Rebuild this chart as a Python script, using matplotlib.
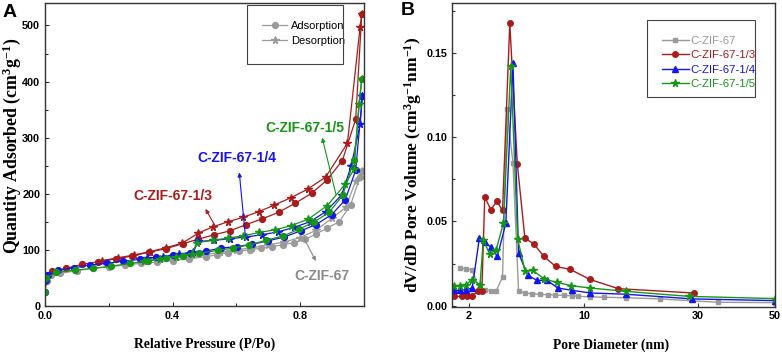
import matplotlib
matplotlib.use('Agg')
import matplotlib.pyplot as plt
from matplotlib.lines import Line2D
from matplotlib.patches import Rectangle
from matplotlib.ticker import FixedLocator, MultipleLocator, NullLocator
import numpy as np

# ---------------- panel A : N2 isotherms ----------------
p_ads_67 = [0.0, 0.005, 0.02, 0.047, 0.1, 0.15, 0.2, 0.25, 0.3, 0.35, 0.4, 0.45, 0.505, 0.538, 0.573,
            0.607, 0.643, 0.677, 0.712, 0.745, 0.779, 0.816, 0.849, 0.885, 0.922, 0.958, 0.987, 0.995]
q_ads_67 = [25, 45, 55, 58, 63, 67, 70, 73, 76, 78, 81, 84, 88, 91, 95,
            98, 100, 103, 106, 109, 113, 119, 128, 139, 150, 180, 230, 241]
p_des_67 = [0.995, 0.974, 0.943, 0.901, 0.85, 0.8, 0.75, 0.7, 0.65, 0.6, 0.55, 0.5, 0.45, 0.4]
q_des_67 = [241, 223, 176, 157, 135, 122, 114, 109, 104, 100, 96, 91, 85, 82]

p_ads_13 = [0.0, 0.005, 0.021, 0.066, 0.115, 0.167, 0.222, 0.274, 0.326, 0.378, 0.432, 0.48, 0.531,
            0.58, 0.63, 0.68, 0.732, 0.784, 0.836, 0.883, 0.932, 0.974, 0.993]
q_ads_13 = [45, 55, 62, 67, 74, 79, 84, 89, 96, 102, 111, 119, 127,
            134, 145, 155, 167, 183, 201, 224, 259, 333, 521]
p_des_13 = [0.993, 0.988, 0.948, 0.88, 0.823, 0.771, 0.719, 0.67, 0.62, 0.573, 0.526, 0.481,
            0.43, 0.38, 0.33, 0.28, 0.23, 0.18]
q_des_13 = [521, 498, 290, 230, 208, 193, 180, 168, 158, 150, 141, 130,
            112, 104, 97, 91, 86, 81]

p_ads_14 = [0.0, 0.003, 0.01, 0.042, 0.09, 0.14, 0.193, 0.245, 0.297, 0.349, 0.401, 0.453, 0.505,
            0.552, 0.601, 0.649, 0.698, 0.75, 0.802, 0.849, 0.899, 0.941, 0.974, 0.995]
q_ads_14 = [25, 47, 55, 64, 68, 73, 76, 80, 83, 87, 91, 95, 98,
            103, 106, 110, 116, 123, 134, 145, 163, 189, 242, 375]
p_des_14 = [0.995, 0.988, 0.96, 0.93, 0.88, 0.83, 0.78, 0.73, 0.68, 0.63, 0.58, 0.53, 0.48,
            0.465, 0.42, 0.37, 0.32]
q_des_14 = [375, 324, 250, 198, 168, 150, 140, 132, 127, 123, 120, 117, 115,
            96, 92, 88, 85]

p_ads_15 = [0.0, 0.003, 0.036, 0.094, 0.151, 0.208, 0.266, 0.323, 0.378, 0.432, 0.484, 0.542,
            0.588, 0.641, 0.693, 0.747, 0.797, 0.844, 0.891, 0.934, 0.969, 0.993]
q_ads_15 = [25, 50, 60, 64, 67, 71, 76, 80, 85, 89, 94, 99,
            103, 109, 117, 125, 137, 150, 167, 198, 260, 405]
p_des_15 = [0.993, 0.984, 0.969, 0.941, 0.885, 0.826, 0.771, 0.722, 0.672, 0.62, 0.573, 0.526,
            0.477, 0.46, 0.41, 0.36, 0.31]
q_des_15 = [405, 360, 244, 217, 179, 155, 143, 136, 131, 125, 121, 117,
            113, 93, 88, 84, 80]

# ---------------- panel B : pore size distribution ----------------
d_67 = [1.76, 1.92, 2.08, 2.31, 2.5, 2.72, 2.92, 3.19, 3.39, 3.69, 3.99, 4.37, 4.8, 5.35, 5.99,
        6.67, 7.49, 8.42, 9.1, 10.6, 12.06, 14.9, 20.9, 34.2, 50]
v_67 = [0.0224, 0.0218, 0.0214, 0.0100, 0.0093, 0.0088, 0.0088, 0.0170, 0.117, 0.0847, 0.0085,
        0.0075, 0.0071, 0.0067, 0.0065, 0.0063, 0.0061, 0.0059, 0.0056, 0.0052, 0.0050, 0.0047,
        0.0040, 0.0020, 0.0018]

d_13 = [1.61, 1.81, 1.95, 2.09, 2.25, 2.39, 2.49, 2.71, 2.95, 3.19, 3.53, 3.92, 4.36, 4.92, 5.69,
        6.69, 8.22, 10.53, 13.88, 28.9]
v_13 = [0.0055, 0.0055, 0.0057, 0.0057, 0.0085, 0.0085, 0.0645, 0.057, 0.0619, 0.0565, 0.1677,
        0.0842, 0.0399, 0.0368, 0.0292, 0.0233, 0.0215, 0.0156, 0.0101, 0.0075]

d_14 = [1.61, 1.76, 1.92, 2.09, 2.31, 2.5, 2.72, 2.97, 3.34, 3.69, 3.99, 4.52, 5.16, 5.94, 6.88,
        8.42, 10.6, 14.9, 28.5, 50]
v_14 = [0.0091, 0.0091, 0.0095, 0.0105, 0.0402, 0.0375, 0.0346, 0.0292, 0.049, 0.144, 0.0312,
        0.0182, 0.015, 0.015, 0.0105, 0.0091, 0.0075, 0.0068, 0.004, 0.003]

d_15 = [1.61, 1.76, 1.92, 2.08, 2.33, 2.44, 2.66, 2.92, 3.23, 3.58, 3.94, 4.37, 4.88, 5.71, 6.83,
        8.27, 10.53, 14.9, 27.6, 50]
v_15 = [0.0119, 0.0119, 0.0125, 0.0154, 0.0125, 0.0391, 0.0308, 0.0332, 0.049, 0.1423, 0.0396,
        0.0203, 0.0209, 0.0158, 0.0138, 0.0119, 0.0105, 0.0085, 0.0055, 0.0042]

labels = ['C-ZIF-67', 'C-ZIF-67-1/3', 'C-ZIF-67-1/4', 'C-ZIF-67-1/5']
colors = ['#9a9a9a', '#a81c1c', '#1414f0', '#169616']

# pore-diameter axis of the original is stretched unevenly between its ticks
knot_d = np.array([1.0, 2.0, 10.0, 30.0, 50.0, 100.0])
knot_px = np.array([419.5, 469.0, 584.0, 697.0, 774.0, 878.5])


def d_forward(x):
    x = np.clip(np.asarray(x, dtype=float), 1e-6, None)
    return np.interp(np.log10(x), np.log10(knot_d), knot_px)


def d_inverse(p):
    return 10 ** np.interp(np.asarray(p, dtype=float), knot_px, np.log10(knot_d))


plt.rcParams['mathtext.fontset'] = 'custom'
plt.rcParams['mathtext.rm'] = 'Liberation Serif:bold'
plt.rcParams['mathtext.it'] = 'Liberation Serif:bold'
plt.rcParams['mathtext.bf'] = 'Liberation Serif:bold'
plt.rcParams['mathtext.default'] = 'rm'

W, H = 782, 357
fig = plt.figure(figsize=(W / 100, H / 100), dpi=100)
axA = fig.add_axes([45 / W, 1 - 306 / H, 319 / W, 303 / H])
axB = fig.add_axes([452 / W, 1 - 306.5 / H, 323 / W, 303.2 / H])

tick_font = dict(family='Liberation Sans', weight='bold', size=7.8)
label_font = dict(family='Liberation Serif', weight='bold', size=9.8)

for ax in (axA, axB):
    for s in ax.spines.values():
        s.set_linewidth(1.0)
        s.set_color('#333333')
    ax.tick_params(which='both', direction='in', top=False, right=False, color='#333333', pad=3.5)
    ax.tick_params(which='major', length=3, width=0.8)
    ax.tick_params(which='minor', length=2, width=0.8)

# ---- A ----
lw = 0.9
isotherms = [(p_ads_67, q_ads_67, p_des_67, q_des_67),
             (p_ads_13, q_ads_13, p_des_13, q_des_13),
             (p_ads_14, q_ads_14, p_des_14, q_des_14),
             (p_ads_15, q_ads_15, p_des_15, q_des_15)]
for (pa, qa, pd, qd), c in zip(isotherms, colors):
    axA.plot(pd, qd, color=c, lw=lw, marker='*', ms=5.5)
    axA.plot(pa, qa, color=c, lw=lw, marker='o', ms=4.2)

axA.set_xlim(0, 1.0)
axA.set_ylim(0, 540)
axA.xaxis.set_major_locator(FixedLocator([0.0, 0.4, 0.8]))
axA.xaxis.set_minor_locator(FixedLocator([0.2, 0.6]))
axA.set_xticklabels(['0.0', '0.4', '0.8'], fontdict=tick_font)
axA.set_yticks([0, 100, 200, 300, 400, 500])
axA.yaxis.set_minor_locator(MultipleLocator(50))
axA.set_yticklabels(['0', '100', '200', '300', '400', '500'], fontdict=tick_font)
axA.set_xlabel('Relative Pressure (P/Po)', fontdict=label_font)
axA.xaxis.set_label_coords(0.50, -0.105)
axA.set_ylabel(r'Quantity Adsorbed (cm$^{3}$g$^{-1}$)',
               fontdict=dict(family='Liberation Serif', weight='bold', size=12.8))
axA.yaxis.set_label_coords(-0.068, 0.53)

ann_font = dict(family='Liberation Sans', weight='bold', size=10)
notes = [('C-ZIF-67-1/3', colors[1], (0.40, 196), (0.531, 145), (0.503, 173)),
         ('C-ZIF-67-1/4', colors[2], (0.60, 264), (0.628, 125), (0.609, 238)),
         ('C-ZIF-67-1/5', colors[3], (0.816, 318), (0.912, 199), (0.869, 300)),
         ('C-ZIF-67', '#8a8a8a', (0.869, 54), (0.8125, 120), (0.849, 80))]
for txt, c, tpos, tail, head in notes:
    axA.text(tpos[0], tpos[1], txt, color=c, ha='center', va='center', **ann_font)
    axA.annotate('', xy=head, xytext=tail,
                 arrowprops=dict(arrowstyle='-|>', color=c, lw=0.8, mutation_scale=6,
                                 shrinkA=0, shrinkB=0))

legA = [Line2D([], [], color='#9a9a9a', lw=lw, marker='o', ms=4.2),
        Line2D([], [], color='#9a9a9a', lw=lw, marker='*', ms=5.5)]
axA.legend(legA, ['Adsorption', 'Desorption'], loc='upper left',
           bbox_to_anchor=(256.7 / W, 1 - 15.5 / H), bbox_transform=fig.transFigure,
           frameon=False, borderpad=0, handlelength=2.25, handletextpad=0.35,
           labelspacing=0.4, prop=dict(family='Liberation Sans', size=8))
fig.add_artist(Rectangle((246.7 / W, 1 - 64 / H), 96.6 / W, 59 / H, transform=fig.transFigure,
                         fill=False, lw=0.8, ec='#444444'))

# ---- B ----
axB.set_xscale('function', functions=(d_forward, d_inverse))
markersB = [('s', 3.3), ('o', 4.0), ('^', 4.5), ('*', 5.5)]
for d, v, c, (m, ms) in zip([d_67, d_13, d_14, d_15], [v_67, v_13, v_14, v_15], colors, markersB):
    axB.plot(d, v, color=c, lw=1.0, marker=m, ms=ms)

axB.set_xlim(1.576, 50)
axB.set_ylim(-0.0005, 0.1795)
axB.xaxis.set_major_locator(FixedLocator([2, 10, 30, 50]))
axB.xaxis.set_minor_locator(NullLocator())
axB.set_xticklabels(['2', '10', '30', '50'], fontdict=tick_font)
axB.set_yticks([0.0, 0.05, 0.10, 0.15])
axB.yaxis.set_minor_locator(MultipleLocator(0.025))
axB.set_yticklabels(['0.00', '0.05', '0.10', '0.15'], fontdict=tick_font)
axB.set_xlabel('Pore Diameter (nm)', fontdict=label_font)
axB.xaxis.set_label_coords(0.494, -0.105)
axB.set_ylabel(r'dV/dD Pore Volume (cm$^{3}$g$^{-1}$nm$^{-1}$)',
               fontdict=dict(family='Liberation Serif', weight='bold', size=12.5))
axB.yaxis.set_label_coords(-0.088, 0.467)

legB = [Line2D([], [], color=c, lw=1.0, marker=m, ms=ms) for c, (m, ms) in zip(colors, markersB)]
lgB = axB.legend(legB, labels, loc='upper left',
                 bbox_to_anchor=(656.7 / W, 1 - 30 / H), bbox_transform=fig.transFigure,
                 frameon=False, borderpad=0, handlelength=2.3, handletextpad=0.2,
                 labelspacing=0.4, prop=dict(family='Liberation Sans', size=8.2))
for t, c in zip(lgB.get_texts(), colors):
    t.set_color(c)
fig.add_artist(Rectangle((646.7 / W, 1 - 96.7 / H), 108.3 / W, 76.7 / H, transform=fig.transFigure,
                         fill=False, lw=0.8, ec='#444444'))

fig.text(3 / W, 1 - 4 / H, 'A', ha='left', va='top', family='Liberation Sans', weight='bold', size=14)
fig.text(401 / W, 1 - 2 / H, 'B', ha='left', va='top', family='Liberation Sans', weight='bold', size=14)

fig.savefig('out.png', dpi=100)
